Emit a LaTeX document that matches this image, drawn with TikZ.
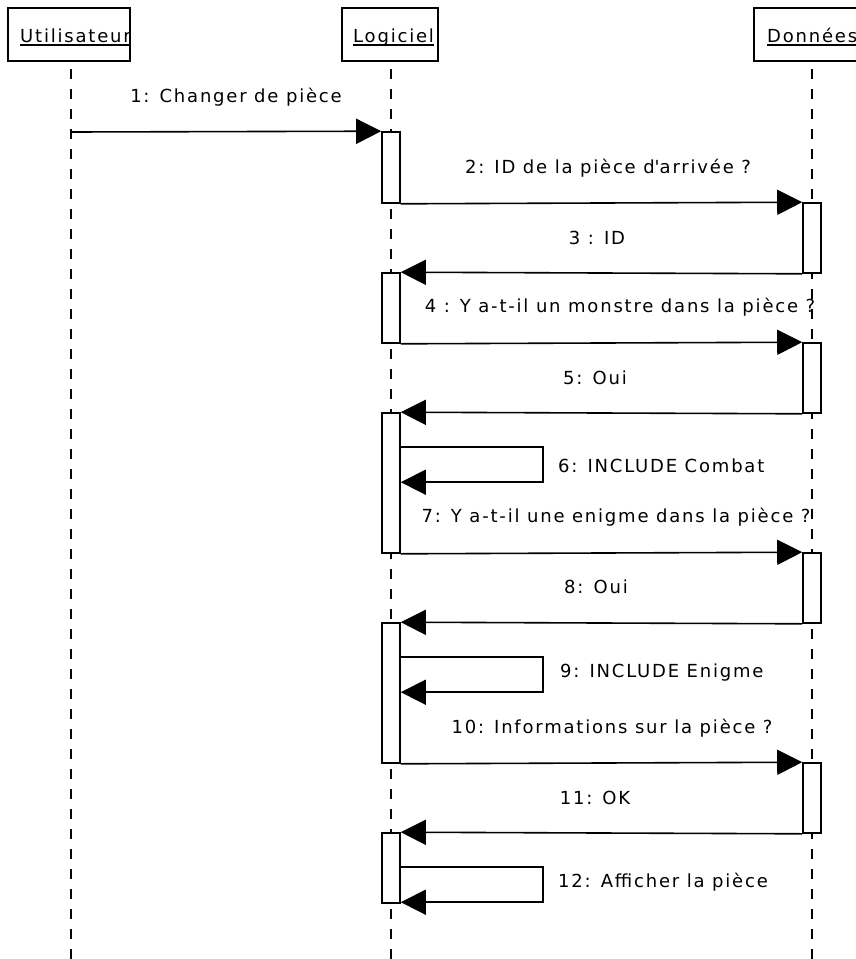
\documentclass[tikz,border=0pt]{standalone}
\usepackage{fontspec}
\setmainfont{DejaVu Sans}[LetterSpace=10]
\usetikzlibrary{arrows.meta}
\begin{document}
\begin{tikzpicture}[x=1pt,y=-1pt,
  header/.style={draw, line width=1.6pt, minimum height=53pt, inner sep=0pt},
  hlabel/.style={font=\fontsize{18}{21}\selectfont, inner sep=0pt, anchor=base west},
  act/.style={draw, fill=white, line width=1.6pt, minimum width=18pt, inner sep=0pt},
  lifeline/.style={line width=1.6pt, dash pattern=on 10pt off 10pt, dash phase=13pt},
  msg/.style={line width=1.6pt, -{Triangle[length=25pt,width=25pt]}},
  selfmsg/.style={line width=1.6pt, -{Triangle[length=25pt,width=25pt]}},
  lbl/.style={font=\fontsize{18}{21}\selectfont, inner sep=0pt}
]
\useasboundingbox (0,0) rectangle (856,959);
\clip (0,0) rectangle (856,959);

% participants
\node[header, minimum width=122pt] (hU) at (69,34.5) {};
\node[header, minimum width=96pt]  (hL) at (390,34.5) {};
\node[header, minimum width=126pt] (hD) at (817,34.5) {};
\begin{scope}
  \clip (hU.south west) rectangle (hU.north east);
  \node[hlabel] (tU) at (20,42) {Utilisateur};
  \draw[line width=1.2pt] ([yshift=-3pt]tU.base west) -- ([yshift=-3pt]tU.base east);
\end{scope}
\node[hlabel] (tL) at (353,42) {Logiciel};
\draw[line width=1.2pt] ([yshift=-3pt]tL.base west) -- ([yshift=-3pt]tL.base east);
\node[hlabel] (tD) at (767,42) {Données};
\draw[line width=1.2pt] ([yshift=-3pt]tD.base west) -- ([yshift=-3pt]tD.base east);

% lifelines
\coordinate (eU) at (71,962);
\coordinate (eL) at (391,962);
\coordinate (eD) at (812,962);
\draw[lifeline] (hU.south -| eU) -- (eU);
\draw[lifeline] (hL.south -| eL) -- (eL);
\draw[lifeline] (hD.south -| eD) -- (eD);

% activation bars of Logiciel
\node[act, minimum height=71pt]  (a1) at (391,167.5) {};
\node[act, minimum height=70pt]  (a2) at (391,308) {};
\node[act, minimum height=140pt] (a3) at (391,483) {};
\node[act, minimum height=140pt] (a4) at (391,693) {};
\node[act, minimum height=70pt]  (a5) at (391,868) {};

% activation bars of Données
\node[act, minimum height=70pt] (d1) at (812,238) {};
\node[act, minimum height=70pt] (d2) at (812,378) {};
\node[act, minimum height=70pt] (d3) at (812,588) {};
\node[act, minimum height=70pt] (d4) at (812,798) {};

% messages
\coordinate (u1) at (71,132);
\draw[msg] (u1) -- (a1.north west);
\draw[msg] (a1.south east) -- (d1.north west);
\draw[msg] (d1.south west) -- (a2.north east);
\draw[msg] (a2.south east) -- (d2.north west);
\draw[msg] (d2.south west) -- (a3.north east);
\draw[msg] (a3.south east) -- (d3.north west);
\draw[msg] (d3.south west) -- (a4.north east);
\draw[msg] (a4.south east) -- (d4.north west);
\draw[msg] (d4.south west) -- (a5.north east);

% self calls
\foreach \b in {a3,a4,a5}{
  \draw[selfmsg] ([yshift=-35pt]\b.north east) -- ++(142,0) -- ++(0,35)
    -- ([yshift=-70pt]\b.north east);
}

% message labels
\node[lbl] (l1)  at (236,97)  {1: Changer de pièce};
\node[lbl] (l2)  at (608,168) {2: ID de la pièce d\textquotesingle arrivée ?};
\node[lbl] (l3)  at (597,238) {3 : ID};
\node[lbl] (l4)  at (620,307) {4 : Y a-t-il un monstre dans la pièce ?};
\node[lbl] (l5)  at (595,378) {5: Oui};
\node[lbl, anchor=west] (l6) at (558,466) {6: INCLUDE Combat};
\node[lbl] (l7)  at (616,517) {7: Y a-t-il une enigme dans la pièce ?};
\node[lbl] (l8)  at (596,587) {8: Oui};
\node[lbl, anchor=west] (l9) at (560,673) {9: INCLUDE Enigme};
\node[lbl] (l10) at (612,728) {10: Informations sur la pièce ?};
\node[lbl] (l11) at (595,798) {11: OK};
\node[lbl, anchor=west] (l12) at (558,882) {12: Afficher la pièce};
\end{tikzpicture}
\end{document}
